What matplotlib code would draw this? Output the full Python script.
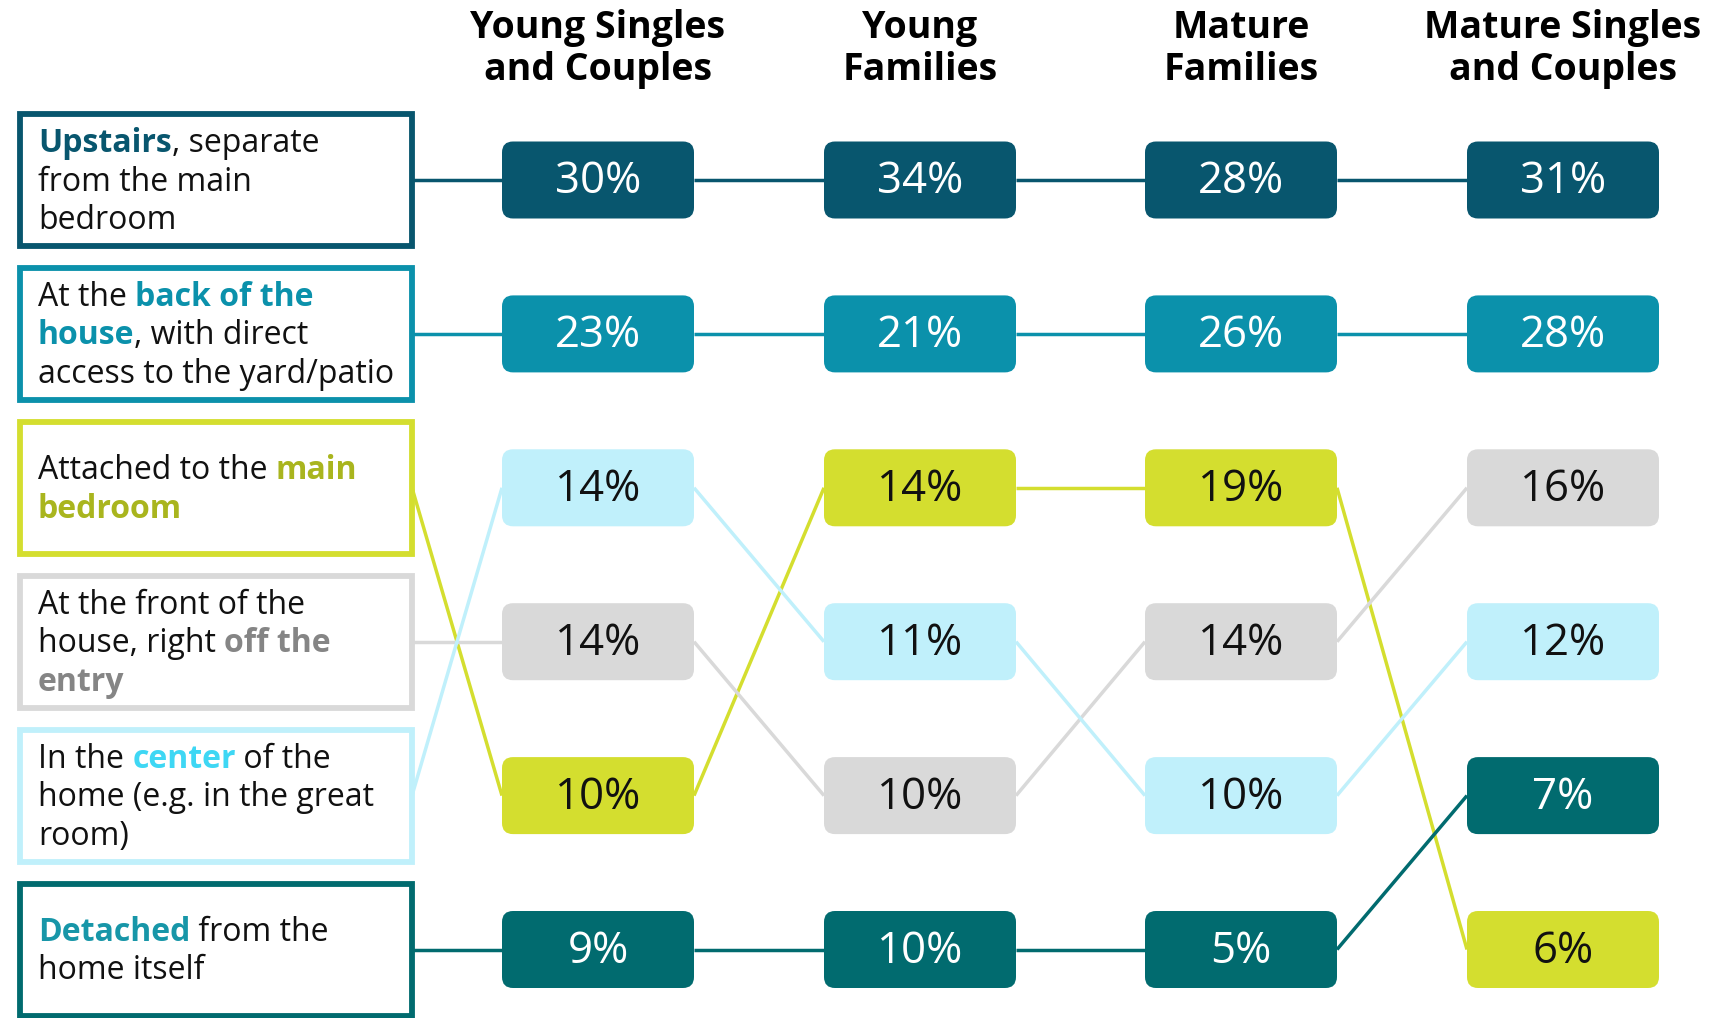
import matplotlib
matplotlib.use("Agg")
import matplotlib.pyplot as plt
from matplotlib.patches import FancyBboxPatch, Rectangle
from matplotlib.font_manager import FontProperties

plt.rcParams['font.family'] = ['Open Sans', 'DejaVu Sans']

# ---------------------------------------------------------------
# data
groups = ["Young Singles\nand Couples", "Young\nFamilies", "Mature\nFamilies", "Mature Singles\nand Couples"]
categories = ["Upstairs", "Back", "Main bedroom", "Front", "Center", "Detached"]

# percent per category (same order as categories), one list per group
young_singles = [30, 23, 10, 14, 14, 9]
young_families = [34, 21, 14, 10, 11, 10]
mature_families = [28, 26, 19, 14, 10, 5]
mature_singles = [31, 28, 6, 16, 12, 7]
values = [young_singles, young_families, mature_families, mature_singles]

# row (rank) of each category in each group, ties as in the source
rank_ys = [0, 1, 4, 3, 2, 5]
rank_yf = [0, 1, 2, 4, 3, 5]
rank_mf = [0, 1, 2, 3, 4, 5]
rank_ms = [0, 1, 5, 2, 3, 4]
ranks = [rank_ys, rank_yf, rank_mf, rank_ms]

# label texts: lines of (text, is_bold)
labels = [
    [[("Upstairs", True), (", separate", False)], [("from the main", False)], [("bedroom", False)]],
    [[("At the ", False), ("back of the", True)], [("house", True), (", with direct", False)],
     [("access to the yard/patio", False)]],
    [[("Attached to the ", False), ("main", True)], [("bedroom", True)]],
    [[("At the front of the", False)], [("house, right ", False), ("off the", True)], [("entry", True)]],
    [[("In the ", False), ("center", True), (" of the", False)], [("home (e.g. in the great", False)],
     [("room)", False)]],
    [[("Detached", True), (" from the", False)], [("home itself", False)]],
]

# ---------------------------------------------------------------
# styles
fill_colors = ["#08566E", "#0B91AB", "#D4DE2F", "#D9D9D9", "#C0F0FB", "#016B6F"]
bold_colors = ["#08566E", "#0B91AB", "#A9B51E", "#858585", "#3ED7F4", "#1796A8"]
value_text_colors = ["white", "white", "#111111", "#111111", "#111111", "white"]

W, H = 1719, 1018
col_x = [598, 920, 1241, 1563]
row_y0, row_dy = 180, 153.9
pill_w, pill_h = 192, 77
box_x0, box_x1, box_h = 20, 412, 132
text_x = 38

fig = plt.figure(figsize=(W / 100, H / 100), dpi=100)
ax = fig.add_axes([0, 0, 1, 1])
ax.set_xlim(0, W)
ax.set_ylim(H, 0)
ax.axis('off')


def row_y(r):
    return row_y0 + r * row_dy


# connecting lines
lw = 2.5
for c in range(len(categories)):
    # label box -> first column
    ax.plot([box_x1, col_x[0] - pill_w / 2], [row_y(c), row_y(ranks[0][c])],
            color=fill_colors[c], lw=lw, zorder=1, solid_capstyle='butt')
    for g in range(len(groups) - 1):
        ax.plot([col_x[g] + pill_w / 2, col_x[g + 1] - pill_w / 2],
                [row_y(ranks[g][c]), row_y(ranks[g + 1][c])],
                color=fill_colors[c], lw=lw, zorder=1, solid_capstyle='butt')

# pills
for g in range(len(groups)):
    for c in range(len(categories)):
        y = row_y(ranks[g][c])
        p = FancyBboxPatch((col_x[g] - pill_w / 2, y - pill_h / 2), pill_w, pill_h,
                           boxstyle="round,pad=0,rounding_size=11",
                           fc=fill_colors[c], ec='none', zorder=3)
        ax.add_patch(p)
        ax.text(col_x[g], y + 2, "%d%%" % values[g][c], ha='center', va='center',
                fontsize=31.5, color=value_text_colors[c], zorder=4)

# headers
for g in range(len(groups)):
    ax.text(col_x[g], 49, groups[g], ha='center', va='center', fontsize=27,
            fontweight='bold', color='black', linespacing=1.17)

# label boxes
fig.canvas.draw()
renderer = fig.canvas.get_renderer()
reg_fp = FontProperties(family=['Open Sans', 'DejaVu Sans'], size=23)
bold_fp = FontProperties(family=['Open Sans', 'DejaVu Sans'], size=23, weight='bold')


def text_width(s, fp):
    w1, _, _ = renderer.get_text_width_height_descent("x" + s + "x", fp, ismath=False)
    w2, _, _ = renderer.get_text_width_height_descent("xx", fp, ismath=False)
    return w1 - w2


line_h = 38.5
for c in range(len(categories)):
    y = row_y(c)
    ax.add_patch(Rectangle((box_x0, y - box_h / 2), box_x1 - box_x0, box_h,
                           fc='white', ec=fill_colors[c], lw=4.2, zorder=2))
    lines = labels[c]
    n = len(lines)
    for i, segs in enumerate(lines):
        ly = y + 2 + (i - (n - 1) / 2) * line_h
        x = text_x
        for s, b in segs:
            fp = bold_fp if b else reg_fp
            ax.text(x, ly, s, ha='left', va='center', fontproperties=fp,
                    color=bold_colors[c] if b else '#111111', zorder=5)
            x += text_width(s, fp)

fig.savefig("out.png", dpi=100)
